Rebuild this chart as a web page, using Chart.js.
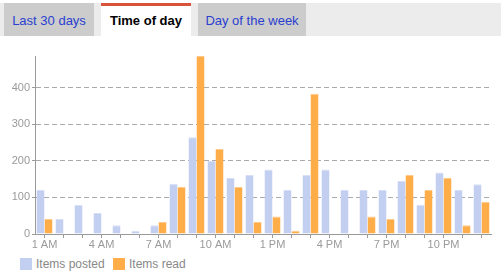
<!DOCTYPE html>
<html>
<head>
<meta charset="utf-8">
<script src="https://cdn.jsdelivr.net/npm/chart.js@4/dist/chart.umd.min.js"></script>
<style>
  html, body { margin: 0; padding: 0; background: #fff; width: 501px; height: 274px; overflow: hidden; font-family: Arial, "Liberation Sans", sans-serif; }
  #tabs { position: absolute; left: 0; top: 3px; width: 501px; height: 33px; background: #ececec; }
  .tab { position: absolute; top: 0; height: 33px; line-height: 36px; font-size: 13px; text-align: center; box-sizing: border-box; }
  .tab.off { background: #cccccc; color: #2a3fcf; }
  .tab.on { background: #fff; color: #000; font-weight: bold; border-top: 3px solid #d8533a; line-height: 30px; }
  #wrap { position: absolute; left: 0; top: 0; width: 501px; height: 254px; }
  #legend { position: absolute; left: 20px; top: 258px; font-size: 12px; color: #888; height: 14px; }
  .li { position: absolute; top: 0; white-space: nowrap; }
  .sw { position: absolute; top: 0; width: 12px; height: 12px; }
  .lt { position: absolute; top: -1px; left: 16px; line-height: 14px; }
</style>
</head>
<body>
<div id="tabs">
  <div class="tab off" style="left:4px;width:90px;">Last 30 days</div>
  <div class="tab on" style="left:101px;width:90px;">Time of day</div>
  <div class="tab off" style="left:198px;width:108px;">Day of the week</div>
</div>
<div id="wrap"><canvas id="c" width="501" height="254"></canvas></div>
<div id="legend">
  <div class="li" style="left:0;"><div class="sw" style="background:#c3cff0;"></div><div class="lt">Items posted</div></div>
  <div class="li" style="left:93px;"><div class="sw" style="background:#ffad48;"></div><div class="lt">Items read</div></div>
</div>
<script>
const categories = ["1 AM","2 AM","3 AM","4 AM","5 AM","6 AM","7 AM","8 AM","9 AM","10 AM","11 AM","12 PM",
                    "1 PM","2 PM","3 PM","4 PM","5 PM","6 PM","7 PM","8 PM","9 PM","10 PM","11 PM","12 AM"];
const itemsPosted = [120, 41, 80, 57, 24, 9, 24, 137, 264, 199, 153, 161,
                     176, 120, 161, 176, 120, 120, 120, 145, 80, 168, 120, 136];
const itemsRead   = [41, 0, 0, 0, 0, 0, 33, 128, 486, 232, 128, 33,
                     48, 9, 383, 0, 0, 48, 41, 161, 120, 153, 24, 88];
const yTicks = [0, 100, 200, 300, 400];
const yMax = 486;

new Chart(document.getElementById('c'), {
  type: 'bar',
  data: {
    labels: categories,
    datasets: [
      { label: 'Items posted', data: itemsPosted, backgroundColor: '#c3cff0',
        borderColor: '#d6dff6', borderWidth: {top: 1, left: 0, right: 0, bottom: 0}, borderSkipped: 'bottom',
        categoryPercentage: 16/19, barPercentage: 1.0 },
      { label: 'Items read', data: itemsRead, backgroundColor: '#ffad48',
        borderColor: '#ffc98a', borderWidth: {top: 1, left: 0, right: 0, bottom: 0}, borderSkipped: 'bottom',
        categoryPercentage: 16/19, barPercentage: 1.0 }
    ]
  },
  options: {
    responsive: false,
    animation: false,
    layout: { padding: { top: 56, right: 10, bottom: 0, left: 0 } },
    plugins: { legend: { display: false }, tooltip: { enabled: false } },
    scales: {
      x: {
        offset: true,
        grid: { offset: false, drawOnChartArea: false, drawTicks: true, tickLength: 4, color: '#9a9a9a' },
        border: { color: '#9a9a9a', width: 1 },
        ticks: {
          autoSkip: false, maxRotation: 0, padding: 0,
          color: '#9a9a9a', font: { family: 'Arial', size: 11 },
          callback: function(v, i) { return i % 3 === 0 ? categories[i] : ''; }
        },
        afterFit: function(s) { s.height = 20; }
      },
      y: {
        min: 0, max: yMax,
        afterBuildTicks: function(s) { s.ticks = yTicks.map(v => ({ value: v })); },
        grid: { color: '#aaaaaa', drawTicks: true, tickLength: 3, tickColor: '#9a9a9a' },
        border: { color: '#9a9a9a', width: 1, dash: [5, 3] },
        ticks: { color: '#9a9a9a', font: { family: 'Arial', size: 11 }, padding: 2 },
        afterFit: function(s) { s.width = 35; }
      }
    }
  }
});
</script>
</body>
</html>
